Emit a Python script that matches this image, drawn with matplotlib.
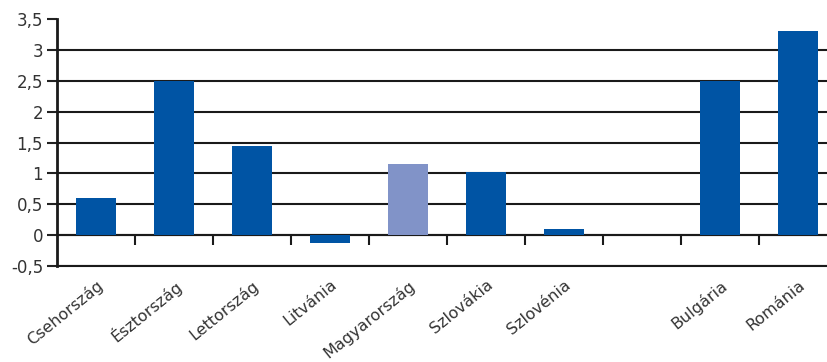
import matplotlib
matplotlib.use('Agg')

import matplotlib.pyplot as plt
from matplotlib.ticker import FuncFormatter, FixedLocator

countries = ['Csehország', 'Észtország', 'Lettország', 'Litvánia', 'Magyarország',
             'Szlovákia', 'Szlovénia', '', 'Bulgária', 'Románia']
values = [0.6, 2.5, 1.45, -0.13, 1.15, 1.02, 0.1, 0.0, 2.5, 3.3]
colors = ['#0054a4'] * 10
colors[4] = '#8193c8'   # Hungary highlighted

yticks = [-0.5, 0, 0.5, 1, 1.5, 2, 2.5, 3, 3.5]

fig = plt.figure(figsize=(8.28, 3.62), dpi=100)
ax = fig.add_axes([57 / 828, 96 / 362, 780 / 828, 247 / 362])

x = list(range(len(countries)))
ax.bar(x, values, width=0.51, color=colors, zorder=3)

ax.set_xlim(-0.5, len(countries) - 0.5)
ax.set_ylim(-0.5, 3.5)

# y axis: comma decimals, black gridlines (none on top)
ax.set_yticks(yticks)
ax.yaxis.set_major_formatter(FuncFormatter(lambda v, p: ('%g' % v).replace('.', ',')))
ax.tick_params(axis='y', direction='out', length=7, width=1.5, color='#222222',
               labelsize=12, labelcolor='#333333', pad=3)
ax.grid(axis='y', color='#1a1a1a', linewidth=1.5, zorder=1)
ax.get_ygridlines()[-1].set_visible(False)

# category labels under the -0.5 line
ax.set_xticks(x)
ax.set_xticklabels(countries, rotation=39, ha='right', rotation_mode='anchor',
                   fontsize=11.5, color='#333333')
ax.tick_params(axis='x', length=0, pad=8)

for side in ['top', 'right']:
    ax.spines[side].set_visible(False)
ax.spines['bottom'].set_linewidth(1.5)
ax.spines['bottom'].set_color('#1a1a1a')
ax.spines['left'].set_linewidth(2)
ax.spines['left'].set_color('#1a1a1a')

# boundary ticks sitting on the zero line
zero = ax.secondary_xaxis(0.125)
zero.xaxis.set_major_locator(FixedLocator([i + 0.5 for i in x[:-1]]))
zero.tick_params(direction='out', length=7, width=1.5, color='#1a1a1a', labelbottom=False)
zero.spines['bottom'].set_linewidth(1.5)
zero.spines['bottom'].set_color('#1a1a1a')

fig.savefig('out.png', dpi=100)
